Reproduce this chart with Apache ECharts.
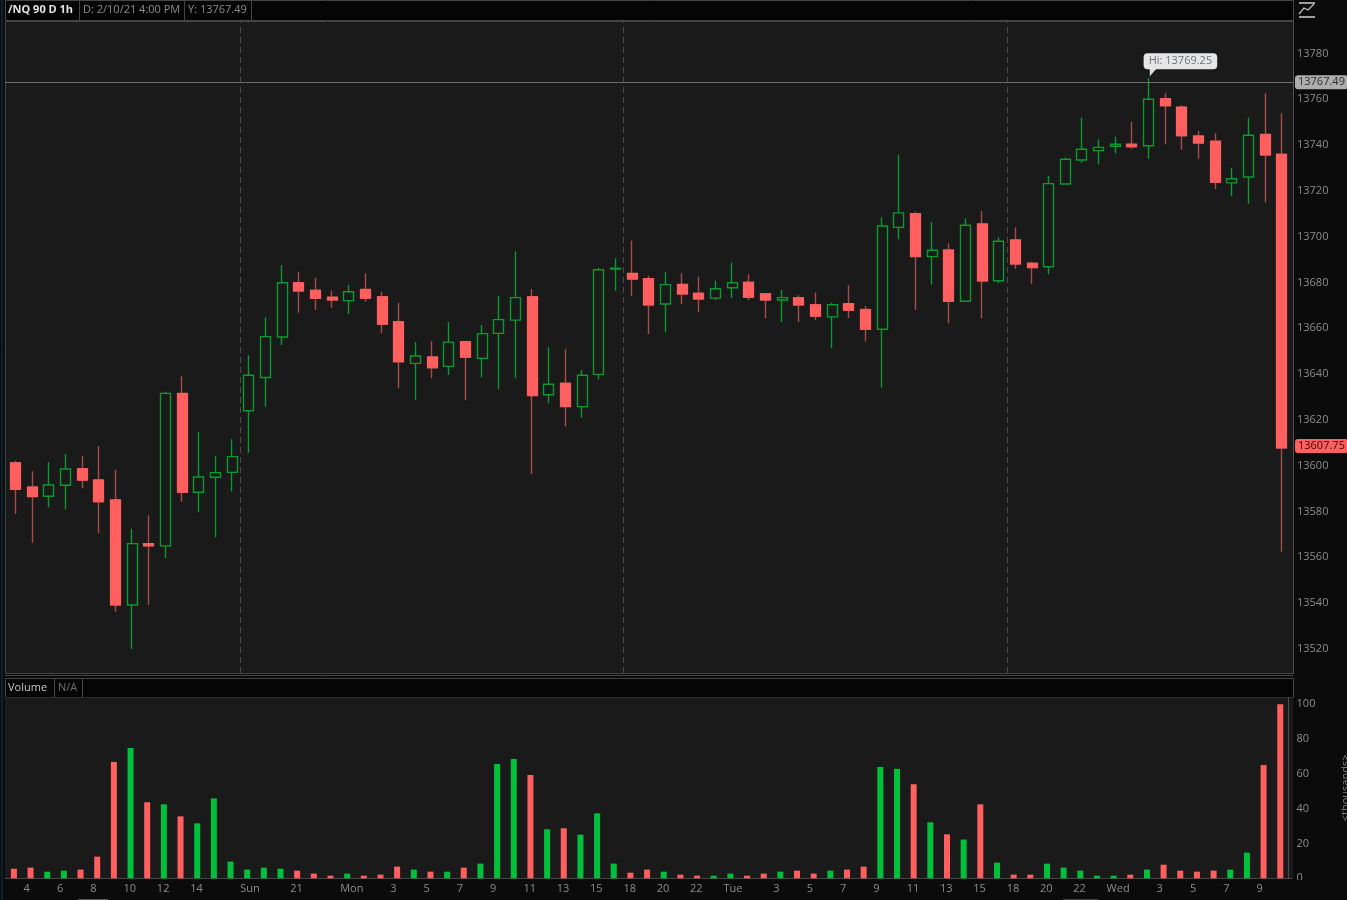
<!DOCTYPE html>
<html>
<head>
<meta charset="utf-8">
<title>/NQ 90 D 1h</title>
<script src="https://cdn.jsdelivr.net/npm/echarts@6/dist/echarts.min.js"></script>
<style>
html,body{margin:0;padding:0;background:#0b0b0b;}
#chart{width:1347px;height:900px;}
</style>
</head>
<body>
<div id="chart"></div>
<script>
const opens = [13601.3,13590.7,13586.7,13591.5,13598.7,13593.8,13585.1,13539.2,13566,13565,
13631.6,13588.4,13595,13597.1,13624,13638.5,13656.2,13679.9,13676.6,13673.6,
13672.1,13677,13673.8,13662.9,13644.7,13647.5,13643.4,13654.2,13646.9,13657.8,
13663.6,13673.8,13631,13636,13625.8,13639.9,13685.9,13684,13681.7,13670.6,
13679.2,13675.3,13673.2,13677.7,13680.1,13675.1,13672.4,13673.4,13670.3,13665,
13670.8,13668.2,13659.6,13704.1,13710.1,13691.3,13694.2,13671.8,13705.6,13680.8,
13698.6,13688.4,13686.9,13723,13733.5,13737.6,13739.5,13740.4,13739.7,13760.3,
13756.6,13744,13741.7,13723.5,13726.1,13744.7,13736];
const closes = [13589.7,13586.5,13591.6,13598.6,13593.7,13584.3,13539.2,13566,13565,13631.6,
13588.4,13595.1,13597,13604,13639.5,13656.4,13679.9,13676.3,13673.1,13672.4,
13676,13673.1,13661.8,13645.4,13647.9,13642.8,13654,13647.4,13657.7,13663.8,
13673.4,13630.6,13635.6,13625.8,13639.5,13685.6,13686.3,13681.5,13670.2,13679.1,
13675,13672.8,13677.3,13679.9,13673.6,13672.4,13673.4,13670.2,13665.3,13670.3,
13667.9,13659.6,13704.7,13710.4,13691.3,13694.1,13671.8,13705,13680.7,13698,
13688.1,13686.5,13723.2,13733.8,13738.2,13739,13740.4,13739.3,13760,13757.2,
13744.1,13740.9,13723.8,13725.3,13744.3,13735.7,13607.75];
const lows = [13578.9,13566.4,13581.9,13581,13590.2,13570.5,13536.2,13520,13539.2,13559.6,
13584.3,13579.7,13568.8,13588.9,13605.7,13625.8,13652.7,13666.8,13668,13669,
13666.3,13671.6,13657.8,13633.8,13628.7,13638.2,13639.6,13628.6,13638.6,13633.4,
13638.2,13596.4,13627.3,13617.1,13621,13637.8,13676.4,13674.1,13657.5,13658.3,
13670.6,13667.1,13672.4,13673.2,13672.4,13664.4,13662.8,13662.8,13663.6,13651.3,
13664.5,13654.3,13634.3,13698.9,13668,13679.1,13662.2,13671.5,13664.4,13679.7,
13686,13679.5,13683.6,13722.9,13732.3,13731.6,13736.3,13738.4,13734.1,13740.4,
13738,13734.1,13720.8,13717.8,13714.4,13714.9,13562.4];
const highs = [13602.2,13597.6,13601.5,13605.1,13604.3,13608.6,13598.2,13572.5,13578.4,13632.3,
13639.1,13614.7,13604.3,13611.6,13648.2,13664.8,13687.7,13684.7,13682.1,13676.4,
13678.9,13684,13676,13671.2,13653.9,13654.4,13662.8,13654.6,13661.5,13674.1,
13693.5,13677.2,13651.7,13650.9,13641.8,13686.5,13690.6,13698.4,13683,13684.5,
13684,13682.5,13680.8,13688.8,13683.6,13675.4,13676.9,13674.4,13675.6,13671.2,
13678.8,13669.8,13708.5,13735.8,13710.9,13706.3,13697.1,13708,13711.2,13699.8,
13704.1,13689.1,13726.5,13734.5,13752.1,13742.5,13743.7,13750.2,13769.25,13762.6,
13757.4,13746.3,13745.2,13730.1,13752.1,13762.6,13753.9];
const volumes = [5.5,6.1,3.8,4.4,5,12.4,66.7,74.7,43.6,42.4,
35.5,31.5,45.8,9.6,5,6.1,5.5,4.4,2.7,1.5,
2.7,1.5,2.1,6.7,5,3.8,3.8,6.1,8.4,65.5,
68.4,59.2,28.1,28.7,25,37.2,8.4,3.2,5,3.8,
2.1,1.5,1.5,2.7,1.5,2.7,3.8,4.4,2.7,4.4,
5,6.7,63.8,62.7,53.9,32.1,25.2,22.2,42.4,9,
2.1,2.1,8.4,6.1,4.4,1.5,1.5,2.1,5,7.8,
4.4,3.8,4.4,5,14.7,64.9,99.7];
const timeLabels = ['','4','','6','','8','','10','','12','','14','','','Sun','','','21','','','Mon','','',
'3','','5','','7','','9','','11','','13','','15','','18','','20','','22','','Tue','','','3','','5','','7','','9','',
'11','','13','','15','','18','','20','','22','','Wed','','','3','','5','','7','','9',''];
const priceTicks = [13520,13540,13560,13580,13600,13620,13640,13660,13680,13700,13720,13740,13760,13780];
const volumeTicks = [0,20,40,60,80,100];
const sessionBreaks = [13.5,36.5,59.5];
const cursorPrice = 13767.49;
const lastPrice = 13607.75;
const highPrice = 13769.25;
const highIndex = 68;

const FONT = '"Open Sans", sans-serif';
const RED = '#ff5f5f', WICK_RED = '#a84b4b', GREEN = '#0a9a30', VOL_GREEN = '#00c03c';
const PANEL = '#1a1a1a', STRIP = '#050505', EDGE = '#454545', TXT = '#8c8c8c';

const cats = opens.map((_, i) => String(i));
const candleData = opens.map((o, i) => [o, closes[i], lows[i], highs[i]]);
const bodyData = opens.map((o, i) => closes[i] < o ? [o, closes[i], closes[i], o] : ['-','-','-','-']);
const volumeData = volumes.map((v, i) => ({
  value: v,
  itemStyle: { color: closes[i] > opens[i] ? VOL_GREEN : RED }
}));

const rect = (x, y, w, h, fill, z) => ({ type:'rect', silent:true, z: z===undefined?-1:z,
  shape:{x,y,width:w,height:h}, style:{fill} });
const boxed = (x, y, w, h, fill) => ({ type:'rect', silent:true, z:-1,
  shape:{x:x+0.5,y:y+0.5,width:w,height:h}, style:{fill, stroke:EDGE, lineWidth:1} });
const label = (x, y, text, color, weight) => ({ type:'text', silent:true, z:5, x, y,
  style:{ text, fill:color, font:(weight||'normal')+' 11px '+FONT, textVerticalAlign:'middle', verticalAlign:'middle' } });
const vline = (x, y1, y2) => ({ type:'line', silent:true, z:5,
  shape:{x1:x+0.5,y1,x2:x+0.5,y2}, style:{stroke:EDGE, lineWidth:1} });

const priceMin = 13509.5, priceMax = 13794.2, volMax = 103.6;

const option = {
  animation:false,
  backgroundColor:'#0b0b0b',
  textStyle:{fontFamily:FONT},
  graphic:[
    rect(1,0,2,900,'#0c2230'),
    boxed(5,21,1288,652,PANEL),
    boxed(5,0,1288,20,STRIP),
    vline(79,0,20), vline(184,0,20), vline(251,0,20),
    label(8,10,'/NQ 90 D 1h','#e4e4e4','bold'),
    label(83,10,'D: 2/10/21 4:00 PM',TXT),
    label(188,10,'Y: 13767.49',TXT),
    rect(5,675,1288,1,EDGE),
    boxed(5,678,1288,19,STRIP),
    vline(54,678,697), vline(82,678,697),
    label(8,687.5,'Volume','#c8c8c8'),
    label(58,687.5,'N/A','#6e6e6e'),
    rect(5,697.5,1288,181,PANEL),
    rect(5,878,1288,1,EDGE),
    rect(1294,880,40,20,'#0b0b0b',100),
    rect(78,899,30,1,'#555'),
    rect(1063,899,35,1,'#444'),
    { type:'line', silent:true, z:5, shape:{x1:1299,y1:3,x2:1315,y2:3}, style:{stroke:'#cfcfcf',lineWidth:1.5} },
    { type:'line', silent:true, z:5, shape:{x1:1299,y1:17,x2:1315,y2:17}, style:{stroke:'#cfcfcf',lineWidth:1.5} },
    { type:'polyline', silent:true, z:5, shape:{points:[[1299,14],[1304,8],[1308,10],[1314,4]]}, style:{stroke:'#bdbdbd',lineWidth:1.2,fill:'none'} }
  ],
  grid:[
    {left:7.27,width:1283,top:21,height:652,outerBoundsMode:'none'},
    {left:5,width:1288,top:21,height:652,outerBoundsMode:'none'},
    {left:5.57,width:1283,top:697.5,height:180.8,outerBoundsMode:'none'},
    {left:-1.43,width:1283,top:697.5,height:180.8,outerBoundsMode:'none'}
  ],
  xAxis:[
    {type:'category',gridIndex:0,data:cats,boundaryGap:true,show:false},
    {type:'value',gridIndex:1,min:-0.636,max:76.68,show:false,splitLine:{show:false}},
    {type:'category',gridIndex:2,data:cats,boundaryGap:true,show:false},
    {type:'category',gridIndex:3,data:timeLabels.map(t=>({value:t})),boundaryGap:true,
      axisLine:{show:false},axisTick:{show:false},splitLine:{show:false},
      axisLabel:{show:true,interval:0,align:'left',margin:5,color:TXT,fontSize:11,fontFamily:FONT,hideOverlap:false}}
  ],
  yAxis:[
    {type:'value',gridIndex:0,min:priceMin,max:priceMax,show:false,splitLine:{show:false}},
    {type:'value',gridIndex:1,min:priceMin,max:priceMax,position:'right',
      splitLine:{show:false},
      axisLine:{show:true,onZero:false,lineStyle:{color:'#555',type:'dotted'}},
      axisTick:{show:false},
      axisLabel:{show:true,color:TXT,fontSize:11,fontFamily:FONT,margin:4,padding:[1,0,0,0],customValues:priceTicks,
        formatter:v=>String(v)}},
    {type:'value',gridIndex:2,min:0,max:volMax,position:'right',
      splitLine:{show:false},
      axisLine:{show:true,lineStyle:{color:'#555',type:'dotted'},onZero:false},
      axisTick:{show:false},
      name:'<thousands>',nameLocation:'middle',nameRotate:90,nameGap:52,
      nameTextStyle:{color:'#7a7f86',fontSize:11,fontFamily:FONT},
      axisLabel:{show:true,color:TXT,fontSize:11,fontFamily:FONT,margin:8,padding:[2,0,0,0],customValues:volumeTicks,
        formatter:v=>String(v)}},
    {type:'value',gridIndex:3,min:0,max:volMax,show:false,splitLine:{show:false}}
  ],
  series:[
    {
      name:'overlay',type:'line',xAxisIndex:1,yAxisIndex:1,z:3,symbol:'none',silent:true,
      data:[[highIndex,highPrice]],lineStyle:{opacity:0},
      markLine:{
        silent:true,symbol:'none',animation:false,precision:2,
        data:[
          ...sessionBreaks.map(x=>({xAxis:x,lineStyle:{color:'#4c4c4c',type:[6,4],width:1},label:{show:false}})),
          {yAxis:cursorPrice,lineStyle:{color:'#6c6c6c',type:'solid',width:1},
            label:{show:true,position:'end',formatter:String(cursorPrice),color:'#2e2e2e',
              backgroundColor:'#adadad',borderRadius:3,padding:[2,3,1,3],fontSize:11,fontFamily:FONT,distance:2}},
          {yAxis:lastPrice,lineStyle:{color:'transparent',width:1,type:'solid'},
            label:{show:true,position:'end',offset:[0,-2],formatter:String(lastPrice),color:'#3a0808',
              backgroundColor:RED,borderRadius:3,padding:[2,3,1,3],fontSize:11,fontFamily:FONT,distance:2}}
        ]
      },
      markPoint:{
        silent:true,animation:false,
        data:[
          {coord:[highIndex,highPrice],symbol:'triangle',symbolSize:[7,9],symbolOffset:[3,-6],symbolRotate:160,
            itemStyle:{color:'#dcdcdc'},label:{show:false}},
          {coord:[highIndex,highPrice],symbol:'rect',symbolSize:1,itemStyle:{color:'transparent'},
            label:{show:true,position:'inside',formatter:'Hi: '+highPrice,offset:[32,-17],color:'#6f7278',
              backgroundColor:'#e6e6e6',borderRadius:4,padding:[3,5,2,5],fontSize:11,fontFamily:FONT}}
        ]
      }
    },
    {
      name:'wicks',type:'candlestick',xAxisIndex:0,yAxisIndex:0,z:4,silent:true,barWidth:10.5,
      data:candleData,
      itemStyle:{color:PANEL,color0:RED,borderColor:GREEN,borderColor0:WICK_RED,borderColorDoji:GREEN,borderWidth:1.4}
    },
    {
      name:'bodies',type:'candlestick',xAxisIndex:0,yAxisIndex:0,z:5,silent:true,barWidth:10.5,
      data:bodyData,
      itemStyle:{color:RED,color0:RED,borderColor:RED,borderColor0:RED,borderColorDoji:RED,borderWidth:1}
    },
    {
      name:'volume',type:'bar',xAxisIndex:2,yAxisIndex:2,z:4,silent:true,barWidth:6,
      data:volumeData
    },
    {
      name:'time',type:'line',xAxisIndex:3,yAxisIndex:3,symbol:'none',silent:true,data:[]
    }
  ]
};
const chart = echarts.init(document.getElementById('chart'),null,{renderer:'canvas',width:1347,height:900});
chart.setOption(option);
</script>
</body>
</html>
